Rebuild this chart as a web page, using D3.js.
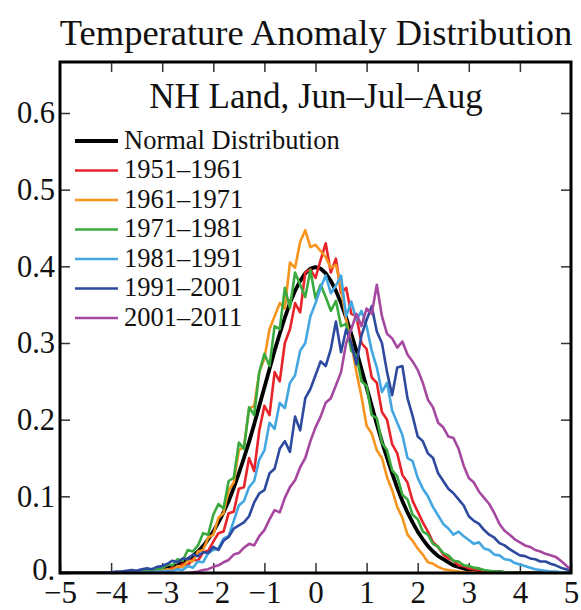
<!DOCTYPE html>
<html>
<head>
<meta charset="utf-8">
<script src="https://cdn.jsdelivr.net/npm/d3@7/dist/d3.min.js"></script>
<style>
  html, body { margin: 0; padding: 0; background: #ffffff; }
  svg { display: block; }
  text { font-family: "Liberation Serif", "Times New Roman", Times, serif; fill: #111; }
</style>
</head>
<body>
<svg id="chart" width="581" height="610"></svg>
<script>
// ---------------- DATA ----------------
const title = "Temperature Anomaly Distribution";
const subtitle = "NH Land, Jun\u2013Jul\u2013Aug";

// bin centres (temperature anomaly, in standard deviations)
const bins = [
  -5.0,-4.9,-4.8,-4.7,-4.6,-4.5,-4.4,-4.3,-4.2,-4.1,
  -4.0,-3.9,-3.8,-3.7,-3.6,-3.5,-3.4,-3.3,-3.2,-3.1,
  -3.0,-2.9,-2.8,-2.7,-2.6,-2.5,-2.4,-2.3,-2.2,-2.1,
  -2.0,-1.9,-1.8,-1.7,-1.6,-1.5,-1.4,-1.3,-1.2,-1.1,
  -1.0,-0.9,-0.8,-0.7,-0.6,-0.5,-0.4,-0.3,-0.2,-0.1,
   0.0, 0.1, 0.2, 0.3, 0.4, 0.5, 0.6, 0.7, 0.8, 0.9,
   1.0, 1.1, 1.2, 1.3, 1.4, 1.5, 1.6, 1.7, 1.8, 1.9,
   2.0, 2.1, 2.2, 2.3, 2.4, 2.5, 2.6, 2.7, 2.8, 2.9,
   3.0, 3.1, 3.2, 3.3, 3.4, 3.5, 3.6, 3.7, 3.8, 3.9,
   4.0, 4.1, 4.2, 4.3, 4.4, 4.5, 4.6, 4.7, 4.8, 4.9,
   5.0
];

const normalDist = [
  0,0,0,0,0,0,0,0,0,0,
  0.000,0.000,0.000,0.000,0.001,0.001,0.001,0.002,0.002,0.003,
  0.004,0.006,0.008,0.010,0.014,0.018,0.022,0.028,0.035,0.044,
  0.054,0.066,0.079,0.094,0.111,0.130,0.150,0.171,0.194,0.218,
  0.242,0.266,0.290,0.312,0.333,0.352,0.368,0.381,0.391,0.397,
  0.399,0.397,0.391,0.381,0.368,0.352,0.333,0.312,0.290,0.266,
  0.242,0.218,0.194,0.171,0.150,0.130,0.111,0.094,0.079,0.066,
  0.054,0.044,0.035,0.028,0.022,0.018,0.014,0.010,0.008,0.006,
  0.004,0.003,0.002,0.002,0.001,0.001,0.001,0.000,0.000,0.000,
  0,0,0,0,0,0,0,0,0,0,
  0
];

const d1951 = [
  0,0,0,0,0,0,0,0,0,0,
  0,0,0,0,0.001,0.001,0.001,0.002,0.002,0.003,
  0.004,0.003,0.007,0.006,0.012,0.010,0.018,0.016,0.027,0.029,
  0.041,0.052,0.054,0.078,0.080,0.110,0.112,0.150,0.133,0.186,
  0.218,0.206,0.262,0.250,0.300,0.318,0.352,0.340,0.392,0.396,
  0.385,0.408,0.430,0.392,0.410,0.365,0.372,0.338,0.335,0.300,
  0.292,0.255,0.248,0.210,0.200,0.168,0.156,0.128,0.118,0.094,
  0.080,0.066,0.054,0.040,0.034,0.024,0.019,0.016,0.010,0.009,
  0.006,0.005,0.004,0.003,0.002,0.002,0.001,0.001,0.001,0.000,
  0,0,0,0,0,0,0,0,0,0,
  0
];

const d1961 = [
  0,0,0,0,0,0,0,0,0,0,
  0,0,0,0,0,0.001,0.001,0.001,0.002,0.002,
  0.003,0.005,0.004,0.009,0.008,0.016,0.015,0.028,0.030,0.046,
  0.050,0.072,0.078,0.108,0.118,0.160,0.165,0.214,0.218,0.262,
  0.280,0.318,0.335,0.352,0.345,0.405,0.398,0.432,0.447,0.425,
  0.428,0.420,0.412,0.398,0.402,0.372,0.330,0.300,0.262,0.230,
  0.192,0.182,0.160,0.150,0.125,0.108,0.086,0.072,0.050,0.042,
  0.032,0.024,0.014,0.012,0.008,0.005,0.004,0.003,0.002,0.001,
  0.001,0.001,0,0,0,0,0,0,0,0,
  0,0,0,0,0,0,0,0,0,0,
  0
];

const d1971 = [
  0,0,0,0,0,0,0,0,0,0,
  0,0,0,0.001,0.001,0.001,0.002,0.003,0.004,0.005,
  0.006,0.011,0.010,0.018,0.016,0.030,0.028,0.036,0.052,0.050,
  0.076,0.090,0.084,0.120,0.124,0.170,0.162,0.216,0.206,0.262,
  0.286,0.270,0.322,0.318,0.372,0.346,0.392,0.376,0.360,0.395,
  0.358,0.376,0.360,0.342,0.355,0.322,0.325,0.290,0.284,0.250,
  0.244,0.206,0.202,0.170,0.160,0.134,0.126,0.102,0.096,0.076,
  0.070,0.054,0.050,0.038,0.034,0.026,0.023,0.016,0.015,0.010,
  0.009,0.007,0.006,0.004,0.003,0.002,0.002,0.001,0.001,0.000,
  0,0,0,0,0,0,0,0,0,0,
  0
];

const d1981 = [
  0,0,0,0,0,0,0,0,0,0,
  0,0,0,0,0,0,0.001,0.001,0.001,0.002,
  0.002,0.003,0.002,0.005,0.004,0.009,0.007,0.015,0.014,0.026,
  0.030,0.032,0.045,0.048,0.068,0.088,0.094,0.112,0.120,0.148,
  0.160,0.196,0.188,0.222,0.215,0.248,0.258,0.290,0.300,0.335,
  0.352,0.372,0.388,0.365,0.375,0.388,0.335,0.354,0.330,0.342,
  0.322,0.290,0.268,0.236,0.248,0.212,0.196,0.180,0.150,0.146,
  0.124,0.110,0.100,0.086,0.075,0.064,0.058,0.050,0.054,0.048,
  0.043,0.038,0.040,0.032,0.030,0.024,0.023,0.018,0.017,0.013,
  0.011,0.009,0.007,0.005,0.004,0.003,0.002,0.002,0.001,0.001,
  0.000
];

const d1991 = [
  0,0,0,0,0,0,0,0,0,0,
  0.001,0.002,0.002,0.003,0.004,0.003,0.005,0.006,0.005,0.008,
  0.009,0.012,0.016,0.014,0.019,0.018,0.024,0.022,0.027,0.026,
  0.034,0.030,0.042,0.047,0.058,0.062,0.066,0.074,0.092,0.104,
  0.108,0.130,0.136,0.162,0.172,0.158,0.204,0.186,0.228,0.240,
  0.258,0.276,0.270,0.292,0.328,0.288,0.318,0.300,0.272,0.310,
  0.330,0.348,0.315,0.300,0.262,0.232,0.268,0.270,0.228,0.205,
  0.178,0.172,0.156,0.150,0.130,0.120,0.110,0.104,0.096,0.088,
  0.074,0.068,0.064,0.056,0.050,0.046,0.039,0.036,0.031,0.027,
  0.023,0.022,0.019,0.018,0.015,0.015,0.012,0.010,0.007,0.005,
  0.003
];

const d2001 = [
  0,0,0,0,0,0,0,0,0,0,
  0,0,0,0,0,0,0,0,0,0,
  0,0,0,0,0,0,0.001,0.002,0.004,0.005,
  0.008,0.010,0.014,0.017,0.024,0.026,0.033,0.038,0.036,0.048,
  0.056,0.070,0.082,0.079,0.098,0.112,0.121,0.138,0.150,0.172,
  0.190,0.204,0.222,0.228,0.245,0.262,0.300,0.318,0.338,0.322,
  0.345,0.338,0.376,0.335,0.312,0.306,0.294,0.302,0.285,0.276,
  0.265,0.248,0.226,0.216,0.196,0.190,0.178,0.176,0.162,0.140,
  0.124,0.118,0.106,0.098,0.090,0.078,0.064,0.055,0.050,0.044,
  0.040,0.036,0.034,0.030,0.028,0.025,0.023,0.021,0.016,0.010,
  0.004
];

const seriesNames  = ["1951\u20131961","1961\u20131971","1971\u20131981","1981\u20131991","1991\u20132001","2001\u20132011"];
const seriesValues = [d1951, d1961, d1971, d1981, d1991, d2001];
const seriesColors = ["#e8232a","#f7941e","#3aaa3e","#44a6e0","#2d4a9f","#a6489f"];

const xTickValues = [-5,-4,-3,-2,-1,0,1,2,3,4,5];
const xTickLabels = ["\u22125","\u22124","\u22123","\u22122","\u22121","0","1","2","3","4","5"];
const yTickValues = [0,0.1,0.2,0.3,0.4,0.5,0.6];
const yTickLabels = ["0.","0.1","0.2","0.3","0.4","0.5","0.6"];

// ---------------- DRAW ----------------
const svg = d3.select("#chart");
const L = 60, R = 571, T = 62, B = 573;

const x = d3.scaleLinear().domain([-5, 5]).range([L, R]);
const y = d3.scaleLinear().domain([0, 0.6]).range([B, 113]);

svg.append("rect").attr("width", 581).attr("height", 610).attr("fill", "#fff");

svg.append("defs").append("clipPath").attr("id", "plotclip")
  .append("rect").attr("x", L).attr("y", T).attr("width", R - L).attr("height", B - T);

// Title
svg.append("text").attr("x", 316).attr("y", 45).attr("text-anchor", "middle")
  .style("font-size", "36.5px").text(title);

// axes (ticks inside on all four sides)
function styleAxis(g) {
  g.select(".domain").remove();
  g.selectAll(".tick line").attr("stroke", "#333").attr("stroke-width", 1.5);
  g.selectAll(".tick text").style("font-family", "'Liberation Serif', 'Times New Roman', serif").attr("fill", "#111");
}

const gx = svg.append("g").attr("transform", `translate(0,${B})`)
  .call(d3.axisBottom(x).tickValues(xTickValues).tickSize(-10).tickPadding(8)
    .tickFormat((d, i) => xTickLabels[i]));
styleAxis(gx);
gx.selectAll(".tick text").style("font-size", "31px");

const gxt = svg.append("g").attr("transform", `translate(0,${T})`)
  .call(d3.axisTop(x).tickValues(xTickValues.slice(1, -1)).tickSize(-10).tickFormat(""));
styleAxis(gxt);

const gy = svg.append("g").attr("transform", `translate(${L},0)`)
  .call(d3.axisLeft(y).tickValues(yTickValues).tickSize(-10).tickPadding(5)
    .tickFormat((d, i) => yTickLabels[i]));
styleAxis(gy);
gy.selectAll(".tick text").style("font-size", "30.5px");
gy.selectAll(".tick text").filter(d => d === 0).attr("dy", "0.22em");

const gyr = svg.append("g").attr("transform", `translate(${R},0)`)
  .call(d3.axisRight(y).tickValues(yTickValues.slice(1)).tickSize(-10).tickFormat(""));
styleAxis(gyr);

// lines
const line = d3.line().x((d, i) => x(bins[i])).y(d => y(d));
const plot = svg.append("g").attr("clip-path", "url(#plotclip)");

plot.append("path").datum(normalDist).attr("d", line)
  .attr("fill", "none").attr("stroke", "#000").attr("stroke-width", 3.8)
  .attr("stroke-linejoin", "round");

seriesValues.forEach((vals, k) => {
  plot.append("path").datum(vals).attr("d", line)
    .attr("fill", "none").attr("stroke", seriesColors[k]).attr("stroke-width", 2.6)
    .attr("stroke-linejoin", "round");
});

// frame
svg.append("rect").attr("x", L).attr("y", T).attr("width", R - L).attr("height", B - T)
  .attr("fill", "none").attr("stroke", "#000").attr("stroke-width", 3);

// subtitle
svg.append("text").attr("x", 316).attr("y", 108).attr("text-anchor", "middle")
  .style("font-size", "35px").text(subtitle);

// legend
const legNames = ["Normal Distribution"].concat(seriesNames);
const legColors = ["#000"].concat(seriesColors);
const legY0 = 141, legDy = 29.5;
const leg = svg.append("g");
legNames.forEach((name, i) => {
  const yy = legY0 + i * legDy;
  leg.append("line").attr("x1", 75).attr("x2", 118).attr("y1", yy).attr("y2", yy)
    .attr("stroke", legColors[i]).attr("stroke-width", i === 0 ? 4 : 2.6);
  leg.append("text").attr("x", 124).attr("y", yy + 7.5)
    .style("font-size", "26.5px").text(name);
});
</script>
</body>
</html>
